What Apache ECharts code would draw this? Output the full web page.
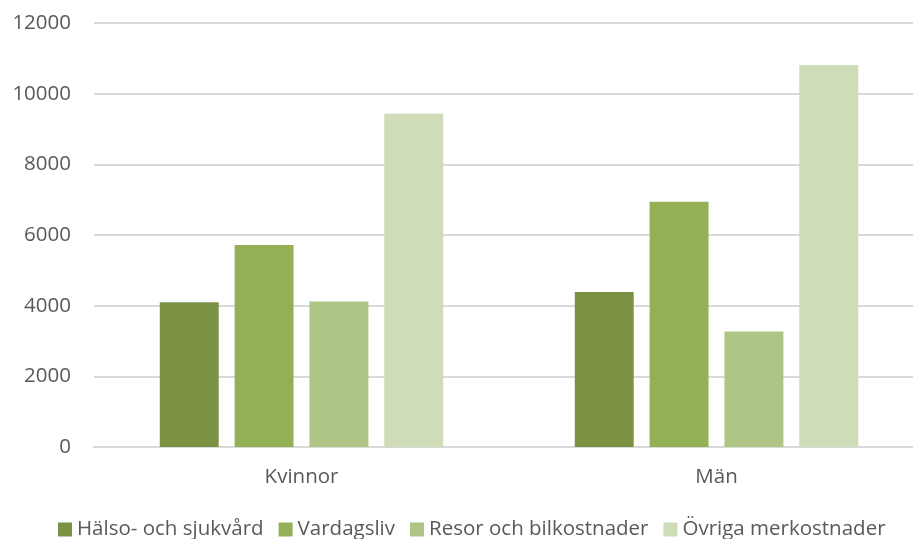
<!DOCTYPE html>
<html>
<head>
<meta charset="utf-8">
<script src="https://cdn.jsdelivr.net/npm/echarts@6/dist/echarts.min.js"></script>
<style>
  html, body { margin: 0; padding: 0; background: #fff; }
  #chart { width: 913px; height: 539px; }
</style>
</head>
<body>
<div id="chart"></div>
<script>
const categories = ['Kvinnor', 'Män']
const seriesNames = ['Hälso- och sjukvård', 'Vardagsliv', 'Resor och bilkostnader', 'Övriga merkostnader']
const halsoValues = [4100, 4390]
const vardagValues = [5720, 6940]
const resorValues = [4120, 3270]
const ovrigaValues = [9430, 10810]
const yTicks = [0, 2000, 4000, 6000, 8000, 10000, 12000]

const colors = ['#7B9244', '#93B056', '#AEC585', '#CFDCB8']
const allValues = [halsoValues, vardagValues, resorValues, ovrigaValues]

const chart = echarts.init(document.getElementById('chart'))
const font = '"Open Sans", sans-serif'

let option = {
  animation: false,
  color: colors,
  grid: {
    left: 94,
    width: 830,
    top: 23,
    bottom: 92,
    outerBoundsMode: 'none'
  },
  legend: {
    data: seriesNames,
    top: 519,
    left: 58,
    padding: 0,
    itemWidth: 14,
    itemHeight: 14,
    itemGap: 15,
    icon: 'rect',
    textStyle: {
      color: '#595959',
      fontSize: 20.5,
      fontFamily: font
    }
  },
  xAxis: {
    type: 'category',
    data: categories,
    axisLine: { lineStyle: { color: '#d9d9d9', width: 2 } },
    axisTick: { show: false },
    axisLabel: {
      color: '#595959',
      fontSize: 20.5,
      fontFamily: font,
      margin: 20
    }
  },
  yAxis: {
    type: 'value',
    min: yTicks[0],
    max: yTicks[yTicks.length - 1],
    interval: 2000,
    axisLine: { show: false },
    axisTick: { show: false },
    splitLine: { lineStyle: { color: '#d9d9d9', width: 2 } },
    axisLabel: {
      color: '#595959',
      fontSize: 20.5,
      fontFamily: font,
      margin: 23,
      formatter: v => String(v)
    }
  },
  series: seriesNames.map((name, i) => ({
    name: name,
    type: 'bar',
    barWidth: '14.2%',
    barGap: '27%',
    itemStyle: { color: colors[i] },
    data: allValues[i]
  }))
}
chart.setOption(option)
</script>
</body>
</html>
